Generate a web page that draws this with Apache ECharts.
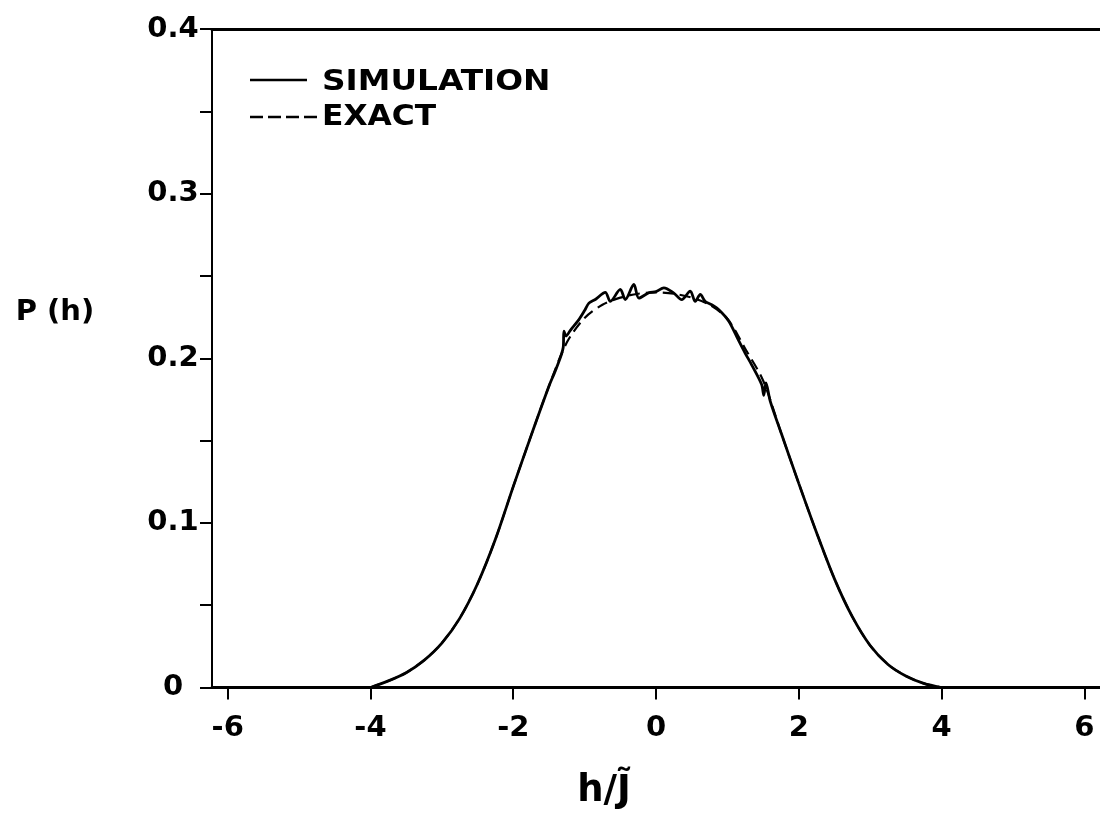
<!DOCTYPE html>
<html>
<head>
<meta charset="utf-8">
<script src="https://cdn.jsdelivr.net/npm/echarts@6/dist/echarts.min.js"></script>
<style>
html,body{margin:0;padding:0;background:#fff;}
#chart{width:1100px;height:815px;}
</style>
</head>
<body>
<div id="chart"></div>
<script>
// ---- data ----
var xTicks = [-6, -4, -2, 0, 2, 4, 6];

// Exact curve (h, P)
var hExact = [-4.0, -3.75, -3.5, -3.25, -3.0, -2.75, -2.5, -2.25, -2.0, -1.75, -1.5, -1.25, -1.0, -0.75, -0.5, -0.25, 0.0,
              0.25, 0.5, 0.75, 1.0, 1.25, 1.5, 1.75, 2.0, 2.25, 2.5, 2.75, 3.0, 3.25, 3.5, 3.75, 4.0];
var pExact = [0.0, 0.0040, 0.0090, 0.0165, 0.027, 0.042, 0.063, 0.090, 0.122, 0.153, 0.183, 0.2095, 0.2245, 0.2325, 0.2368, 0.2392, 0.2400,
              0.2392, 0.2368, 0.2325, 0.2240, 0.2058, 0.1865, 0.155, 0.124, 0.094, 0.066, 0.043, 0.0255, 0.014, 0.0070, 0.0025, 0.0];

// Simulation curve (h, P)
var hSim = [-4.0, -3.75, -3.5, -3.25, -3.0, -2.75, -2.5, -2.25, -2.0, -1.75, -1.5, -1.4, -1.3, -1.29, -1.26, -1.2, -1.08, -1.0,
            -0.94, -0.85, -0.71, -0.64, -0.5, -0.43, -0.31, -0.24, -0.1, 0.0, 0.11, 0.25, 0.36, 0.48, 0.55, 0.62, 0.69,
            0.78, 0.88, 1.02, 1.15, 1.25, 1.34, 1.48, 1.51, 1.54, 1.6, 1.75, 2.0, 2.25, 2.5, 2.75, 3.0, 3.25, 3.5, 3.75, 4.0];
var pSim = [0.0, 0.0040, 0.0090, 0.0165, 0.027, 0.042, 0.063, 0.090, 0.122, 0.153, 0.183, 0.1935, 0.2065, 0.2165, 0.2135, 0.2170, 0.2235, 0.2290,
            0.2335, 0.2357, 0.2400, 0.2345, 0.2418, 0.2357, 0.2448, 0.2365, 0.2398, 0.2405, 0.2428, 0.2396, 0.2356, 0.2408, 0.2345, 0.2388, 0.2345,
            0.2325, 0.2295, 0.2225, 0.2114, 0.2030, 0.1960, 0.1840, 0.1775, 0.1850, 0.1740, 0.155, 0.124, 0.094, 0.066, 0.043, 0.0255, 0.014, 0.0070, 0.0025, 0.0];

var legendNames = ['SIMULATION', 'EXACT'];
var yTitle = 'P (h)';
var xTitle = 'h/J\u0303';

function pairs(xs, ys) { return xs.map(function (x, i) { return [x, ys[i]]; }); }

var FONT = 'DejaVu Sans';
var chart = echarts.init(document.getElementById('chart'), null, {renderer: 'canvas'});
chart.setOption({
  backgroundColor: '#ffffff',
  animation: false,
  grid: {left: 212, top: 29, width: 890.4, height: 659},
  xAxis: [{
    type: 'value', min: -6.22, max: 6.22, position: 'bottom',
    name: xTitle, nameLocation: 'middle', nameGap: 104,
    nameTextStyle: {fontFamily: FONT, fontWeight: 'bold', fontSize: 37, color: '#000',
      align: 'center', verticalAlign: 'middle', padding: [0, 104, 0, 0]},
    axisLine: {show: true, onZero: false, lineStyle: {color: '#000', width: 3}},
    axisTick: {show: true, inside: false, length: 12, customValues: xTicks, lineStyle: {color: '#000', width: 2}},
    axisLabel: {show: true, customValues: xTicks, margin: 26, fontFamily: FONT, fontWeight: 'bold', fontSize: 29, color: '#000',
      formatter: function (v) { return String(v); }},
    splitLine: {show: false}
  }, {
    type: 'value', min: -6.22, max: 6.22, position: 'top',
    axisLine: {show: true, onZero: false, lineStyle: {color: '#000', width: 3}},
    axisTick: {show: false}, axisLabel: {show: false}, splitLine: {show: false}
  }],
  yAxis: {
    type: 'value', min: 0, max: 0.4, interval: 0.05,
    axisLine: {show: true, onZero: false, lineStyle: {color: '#000', width: 2}},
    axisTick: {show: true, inside: false, length: 12, lineStyle: {color: '#000', width: 2}},
    axisLabel: {show: true, margin: 39, align: 'center', fontFamily: FONT, fontWeight: 'bold', fontSize: 29, color: '#000',
      formatter: function (v) {
        var k = Math.round(v * 100);
        if (k % 10 !== 0) return '';
        return k === 0 ? '0' : (k / 100).toFixed(1);
      }},
    splitLine: {show: false}
  },
  series: [{
    name: legendNames[1], type: 'line', data: pairs(hExact, pExact), showSymbol: false, symbol: 'none',
    smooth: 0.3, clip: true,
    lineStyle: {color: '#000', width: 2.2, type: [11, 6]}, z: 2
  }, {
    name: legendNames[0], type: 'line', data: pairs(hSim, pSim), showSymbol: false, symbol: 'none',
    smooth: 0.3, clip: true,
    lineStyle: {color: '#000', width: 2.8}, z: 3
  }],
  graphic: [
    {type: 'text', x: 55, y: 312,
      style: {text: yTitle, fill: '#000', font: 'bold 29px "DejaVu Sans"', textAlign: 'center', textVerticalAlign: 'middle'}},
    {type: 'line', shape: {x1: 250, y1: 80, x2: 307, y2: 80}, style: {stroke: '#000', lineWidth: 2.5}},
    {type: 'line', shape: {x1: 250, y1: 117, x2: 318, y2: 117}, style: {stroke: '#000', lineWidth: 2.5, lineDash: [13, 5]}},
    {type: 'text', x: 322, y: 82.5, scaleX: 1.13,
      style: {text: legendNames[0], fill: '#000', font: 'bold 29px "DejaVu Sans"', textAlign: 'left', textVerticalAlign: 'middle'}},
    {type: 'text', x: 322, y: 117.5, scaleX: 1.08,
      style: {text: legendNames[1], fill: '#000', font: 'bold 29px "DejaVu Sans"', textAlign: 'left', textVerticalAlign: 'middle'}}
  ]
});
</script>
</body>
</html>
